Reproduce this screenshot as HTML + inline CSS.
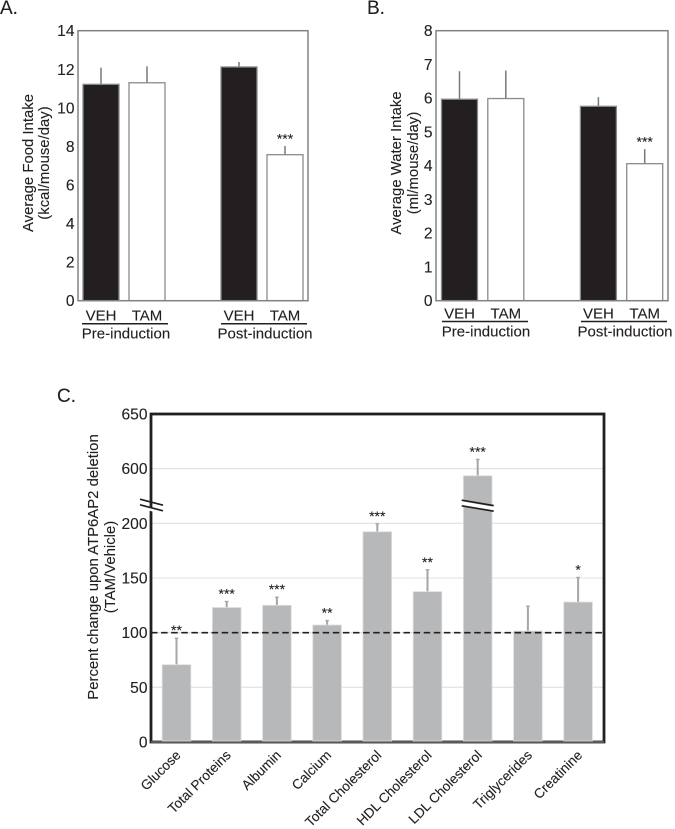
<!DOCTYPE html>
<html lang="en">
<head>
<meta charset="utf-8">
<title>Food intake, water intake and serum chemistry after ATP6AP2 deletion</title>
<style>
  html, body { margin: 0; padding: 0; background: #fff; }
  body { width: 675px; height: 829px; overflow: hidden; }
  svg { display: block; filter: blur(0.35px); font-family: "Liberation Sans", Arial, sans-serif; fill: #231f20; }
  text { stroke: #231f20; stroke-width: 0.12px; }
  .tick { font-size: 15.6px; }
  .title { font-size: 14.9px; }
  .group { font-size: 15px; }
  .panel { font-size: 19px; }
  .cat { font-size: 13.6px; }
  .sig { font-size: 14px; }
</style>
</head>
<body>
<svg id="figure" width="675" height="829" viewBox="0 0 675 829" xmlns="http://www.w3.org/2000/svg">
  <text class="panel" x="0" y="14">A.</text>
  <text class="panel" x="367" y="14">B.</text>
  <text class="panel" x="57" y="402">C.</text>

  <g id="chart-a"></g>
  <g id="chart-b"></g>
  <g id="chart-c"></g>

  <g>
    <text class="title" text-anchor="middle" transform="translate(33,163) rotate(-90)">Average Food Intake</text>
    <text class="title" text-anchor="middle" transform="translate(49,163) rotate(-90)">(kcal/mouse/day)</text>
  </g>
  <g>
    <text class="title" text-anchor="middle" transform="translate(401,163) rotate(-90)">Average Water Intake</text>
    <text class="title" text-anchor="middle" transform="translate(418,163) rotate(-90)">(ml/mouse/day)</text>
  </g>
  <g>
    <text class="title" text-anchor="middle" transform="translate(98,567) rotate(-90)">Percent change upon ATP6AP2 deletion</text>
    <text class="title" text-anchor="middle" transform="translate(115,567) rotate(-90)">(TAM/Vehicle)</text>
  </g>

  <g>
    <line x1="82" x2="168" y1="323.7" y2="323.7" stroke="#231f20" stroke-width="1.5"/>
    <line x1="221" x2="307" y1="323.7" y2="323.7" stroke="#231f20" stroke-width="1.5"/>
    <text class="group" x="126" y="338.5" text-anchor="middle">Pre-induction</text>
    <text class="group" x="265" y="338.5" text-anchor="middle">Post-induction</text>
  </g>
  <g>
    <line x1="442" x2="528" y1="321.5" y2="321.5" stroke="#231f20" stroke-width="1.5"/>
    <line x1="581" x2="667" y1="321.5" y2="321.5" stroke="#231f20" stroke-width="1.5"/>
    <text class="group" x="486" y="336.5" text-anchor="middle">Pre-induction</text>
    <text class="group" x="625" y="336.5" text-anchor="middle">Post-induction</text>
  </g>
</svg>

<script>
// Panels A and B
const treatmentLabels = ['VEH', 'TAM', 'VEH', 'TAM'];
const foodTicks = [0, 2, 4, 6, 8, 10, 12, 14];
const foodMeans = [11.22, 11.3, 12.12, 7.57];
const foodErrors = [0.86, 0.85, 0.26, 0.45];
const foodSignificance = ['', '', '', '***'];
const waterTicks = [0, 1, 2, 3, 4, 5, 6, 7, 8];
const waterMeans = [5.97, 5.99, 5.76, 4.06];
const waterErrors = [0.83, 0.83, 0.27, 0.43];
const waterSignificance = ['', '', '', '***'];

// Panel C
const analytes = ['Glucose', 'Total Proteins', 'Albumin', 'Calcium', 'Total Cholesterol', 'HDL Cholesterol', 'LDL Cholesterol', 'Triglycerides', 'Creatinine'];
const percentMeans = [70.7, 123, 125, 107, 192.3, 137.5, 548, 101.5, 128];
const percentErrors = [24.7, 6, 8, 4.6, 7.7, 20.5, 61, 23.2, 23];
const percentSignificance = ['**', '***', '***', '**', '***', '**', '***', '', '*'];
const percentTicks = [0, 50, 100, 150, 200, 600, 650];
const referenceLevel = 100;
const brokenAxisValue = 340;

const NS = 'http://www.w3.org/2000/svg';
function make(parent, tag, attrs, content) {
  const el = document.createElementNS(NS, tag);
  for (const k in attrs) el.setAttribute(k, attrs[k]);
  if (content !== undefined) el.textContent = content;
  parent.appendChild(el);
  return el;
}
function drawSmallChart(host, box, ticks, means, errors, marks, prefix) {
  const top = ticks[ticks.length - 1];
  const y = v => box.bottom - (v / top) * (box.bottom - box.top);
  const x = i => box.firstCenter + box.step * (i + (i >= 2 ? 1 : 0));

  ticks.forEach(t => {
    const label = make(host, 'text', { class: 'tick', x: box.left - 3.5, y: y(t) + 5.5, 'text-anchor': 'end' }, t);
    
    
  });

  means.forEach((m, i) => {
    const err = make(host, 'line', { x1: x(i), x2: x(i), y1: y(m), y2: y(m + errors[i]), stroke: '#77787b', 'stroke-width': 1.5 });
    
    

    const bar = make(host, 'rect', {
      x: x(i) - 18, y: y(m), width: 36, height: box.bottom - y(m),
      fill: treatmentLabels[i] === 'VEH' ? '#231f20' : '#ffffff',
      stroke: '#8a8b8d', 'stroke-width': 1.3
    });
    
    

    const label = make(host, 'text', { class: 'group', x: x(i), y: box.labelY, 'text-anchor': 'middle' }, treatmentLabels[i]);
    
    

    if (marks[i]) {
      const star = make(host, 'text', { class: 'sig', x: x(i), y: y(m + errors[i]) - 2.5, 'text-anchor': 'middle' }, marks[i]);
      
      
    }
  });

  const frame = make(host, 'rect', { x: box.left, y: box.top, width: box.right - box.left, height: box.bottom - box.top, fill: 'none', stroke: '#808285', 'stroke-width': 1.5 });
  
  
}

drawSmallChart(document.getElementById('chart-a'),
  { left: 78, right: 308, top: 30.7, bottom: 300.7, firstCenter: 101, step: 46, labelY: 320.5 },
  foodTicks, foodMeans, foodErrors, foodSignificance, 'food');
drawSmallChart(document.getElementById('chart-b'),
  { left: 436, right: 668, top: 30.7, bottom: 300.7, firstCenter: 459.5, step: 46.3, labelY: 318.5 },
  waterTicks, waterMeans, waterErrors, waterSignificance, 'water');

(function drawPercentChart() {
  const host = document.getElementById('chart-c');
  const box = { left: 151, right: 604, top: 414, bottom: 742 };
  const tickStep = (box.bottom - box.top) / (percentTicks.length - 1);
  // Piecewise axis: each tick interval takes the same height, so 200-600 is compressed.
  const y = v => {
    let s = 0;
    while (s < percentTicks.length - 2 && v > percentTicks[s + 1]) s++;
    const frac = (v - percentTicks[s]) / (percentTicks[s + 1] - percentTicks[s]);
    return box.bottom - (s + frac) * tickStep;
  };
  const x = i => 176.5 + 50.2 * i;
  const barWidth = 28.6;

  percentTicks.forEach(t => {
    if (t !== 0) {
      const grid = make(host, 'line', { x1: box.left, x2: box.right, y1: y(t), y2: y(t), stroke: '#e4e5e6', 'stroke-width': 1.3 });
      
      
    }
    const label = make(host, 'text', { class: 'tick', x: box.left - 3.5, y: y(t) + 5.5, 'text-anchor': 'end' }, t);
    
    
  });

  const frame = make(host, 'rect', { x: box.left, y: box.top, width: box.right - box.left, height: box.bottom - box.top, fill: 'none', stroke: '#231f20', 'stroke-width': 2.8 });
  
  

  const baseline = make(host, 'line', { x1: box.left, x2: box.right, y1: box.bottom, y2: box.bottom, stroke: '#58595b', 'stroke-width': 2 });
  
  

  analytes.forEach((name, i) => {
    const m = percentMeans[i];
    const errTop = y(m + percentErrors[i]);

    const err = make(host, 'line', { x1: x(i), x2: x(i), y1: y(m), y2: errTop, stroke: '#a5a6a9', 'stroke-width': 2 });
    
    

    const cap = make(host, 'line', { x1: x(i) - 1.8, x2: x(i) + 1.8, y1: errTop + 0.6, y2: errTop + 0.6, stroke: '#a5a6a9', 'stroke-width': 1.4 });
    
    

    const bar = make(host, 'rect', { x: x(i) - barWidth / 2, y: y(m), width: barWidth, height: box.bottom - 1 - y(m), fill: '#b7b8ba', stroke: '#dcdddf', 'stroke-width': 0.8 });
    
    

    const label = make(host, 'text', { class: 'cat', 'text-anchor': 'end', transform: 'translate(' + (x(i) + 5) + ',756) rotate(-45)' }, name);
    
    

    if (percentSignificance[i]) {
      const star = make(host, 'text', { class: 'sig', x: x(i), y: errTop - 2.5, 'text-anchor': 'middle' }, percentSignificance[i]);
      
      
    }
  });

  const dashed = make(host, 'line', { x1: box.left, x2: box.right, y1: y(referenceLevel), y2: y(referenceLevel), stroke: '#231f20', 'stroke-width': 1.6, 'stroke-dasharray': '6.5 3.6' });
  
  

  const breakY = y(brokenAxisValue);
  const axisGap = make(host, 'path', { d: 'M140 ' + breakY + ' L163 ' + (breakY + 6) + ' L163 ' + (breakY + 10) + ' L140 ' + (breakY + 4) + ' Z', fill: '#ffffff' });
  
  

  [-1, 4.6].forEach(offset => {
    const stroke = make(host, 'line', { x1: 140, x2: 163, y1: breakY + offset - 4, y2: breakY + offset + 2, stroke: '#231f20', 'stroke-width': 1.7 });
    
    
  });

  const ldlX = x(analytes.indexOf('LDL Cholesterol'));
  const barGap = make(host, 'path', { d: 'M' + (ldlX - 16) + ' ' + (breakY - 3) + ' L' + (ldlX + 16) + ' ' + (breakY + 2.5) + ' L' + (ldlX + 16) + ' ' + (breakY + 6) + ' L' + (ldlX - 16) + ' ' + (breakY + 1) + ' Z', fill: '#ffffff' });
  
  

  [-4, 1.6].forEach(offset => {
    const stroke = make(host, 'line', { x1: ldlX - 16, x2: ldlX + 16, y1: breakY + offset, y2: breakY + offset + 5.4, stroke: '#231f20', 'stroke-width': 1.7 });
    
    
  });
})();
</script>
</body>
</html>
